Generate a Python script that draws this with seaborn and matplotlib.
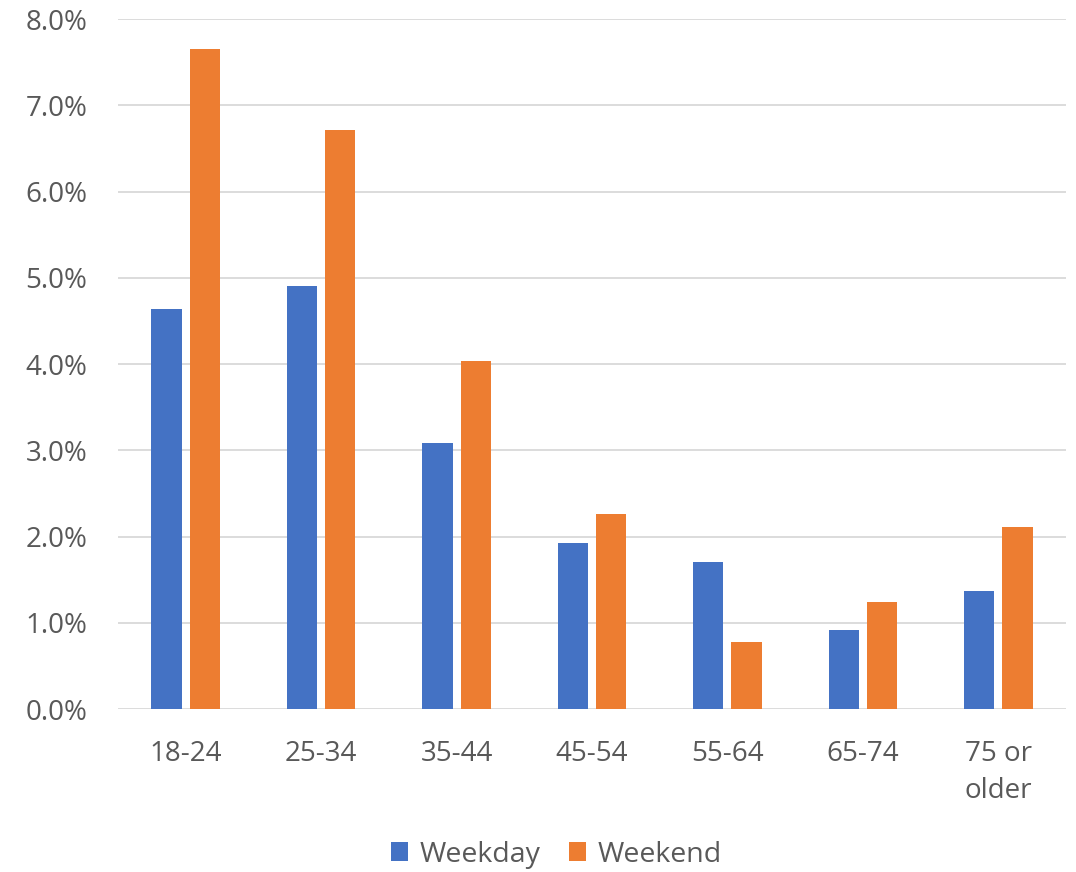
import matplotlib
matplotlib.use("Agg")
import matplotlib.pyplot as plt
from matplotlib.patches import Patch
from matplotlib.ticker import PercentFormatter
import pandas as pd
import seaborn as sns

# Share of respondents by age group, weekday vs weekend
age_groups = ["18-24", "25-34", "35-44", "45-54", "55-64", "65-74", "75 or\nolder"]
weekday = [4.64, 4.90, 3.08, 1.92, 1.70, 0.92, 1.37]
weekend = [7.65, 6.71, 4.03, 2.26, 0.78, 1.24, 2.11]
series_names = ["Weekday", "Weekend"]
colors = ["#4472C4", "#ED7D31"]

df = pd.DataFrame({
    "age": age_groups * 2,
    "value": [v / 100 for v in weekday + weekend],
    "series": [series_names[0]] * len(age_groups) + [series_names[1]] * len(age_groups),
})

sns.set_theme(style="white")
plt.rcParams["font.family"] = ["Open Sans", "DejaVu Sans"]

fig = plt.figure(figsize=(10.76, 8.72), dpi=100)
ax = fig.add_axes([0.1097, 0.1869, 0.8810, 0.7913])

sns.barplot(data=df, x="age", y="value", hue="series", palette=colors,
            width=0.566, gap=0.21, linewidth=0, saturation=1, ax=ax,
            legend=False)

ax.set_ylim(0, 0.08)
ax.set_xlim(-0.5, len(age_groups) - 0.5)
ax.set_yticks([i / 100 for i in range(0, 9)])
ax.yaxis.set_major_formatter(PercentFormatter(xmax=1, decimals=1))
ax.grid(axis="y", color="#D9D9D9", linewidth=1.3)
ax.set_axisbelow(True)
for side in ["top", "right", "left", "bottom"]:
    ax.spines[side].set_visible(False)
ax.set_xlabel("")
ax.set_ylabel("")
ax.tick_params(axis="both", length=0, labelsize=20, colors="#595959")
ax.tick_params(axis="y", pad=22)
ax.tick_params(axis="x", pad=22)
for lbl in ax.get_xticklabels():
    lbl.set_linespacing(1.45)
    lbl.set_verticalalignment("top")

handles = [Patch(facecolor=c, edgecolor="none", label=n) for c, n in zip(colors, series_names)]
fig.legend(handles=handles, loc="center", bbox_to_anchor=(0.517, 0.020), ncol=2,
           frameon=False, fontsize=20.5, labelcolor="#595959",
           handlelength=0.6, handleheight=0.6, handletextpad=0.4, columnspacing=1.0)

fig.savefig("out.png", dpi=100, facecolor="white")
